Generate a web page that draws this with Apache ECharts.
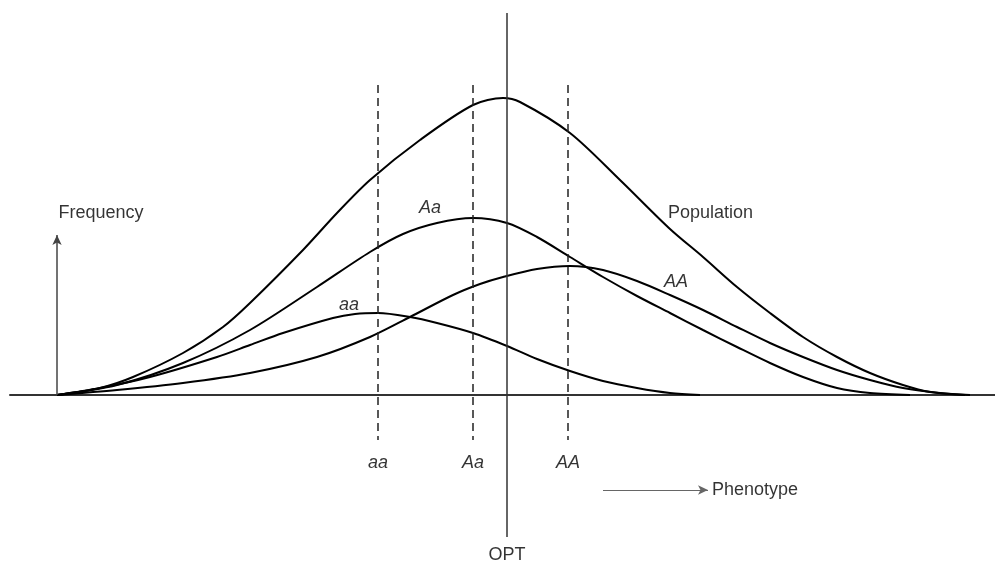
<!DOCTYPE html>
<html lang="en">
<head>
    <meta charset="UTF-8">
    <title>Phenotype distribution</title>
    <style>
        html, body { margin: 0; padding: 0; background: #fff; }
        #main { width: 995px; height: 562px; }
    </style>
</head>
<body>
    <div id="main"></div>
    <script src="https://cdn.jsdelivr.net/npm/echarts@6/dist/echarts.min.js"></script>
    <script>
    // curves: [phenotype, frequency]
    var aaCurve = [[57,0],[100,7],[150,18],[217,38],[250,50],[283,62],[333,77],[355,81],[378,82],[410,78],[437,72],[473,62],[507,49],[537,36],[570,24],[603,14],[637,7],[670,2],[700,0]];
    var AaCurve = [[57,0],[117,10],[183,32],[250,65],[317,108],[370,143],[403,161],[437,172],[473,177],[507,172],[537,158],[570,138],[603,118],[637,99],[670,82],[703,65],[737,48],[770,32],[803,18],[837,7],[870,2],[910,0]];
    var AACurve = [[57,0],[117,5],[183,12],[250,22],[317,38],[370,58],[410,78],[453,100],[480,111],[503,118],[537,126],[570,129],[603,125],[637,114],[670,100],[703,85],[737,68],[770,52],[803,38],[837,25],[870,15],[903,7],[940,2],[970,0]];
    var popCurve = [[57,0],[100,7],[133,18],[183,42],[223,68],[250,92],[303,145],[337,182],[370,215],[420,255],[473,290],[503,297],[520,293],[570,262],[620,215],[670,166],[703,138],[737,108],[770,82],[803,58],[837,38],[870,22],[903,10],[930,3],[965,0]];

    var genotypes = ['aa', 'Aa', 'AA'];
    var genotypeMeans = [378, 473, 568];
    var optX = 507;

    var curveLabels = [
        { name: 'aa', value: [349, 90], italic: true },
        { name: 'Aa', value: [430, 187], italic: true },
        { name: 'AA', value: [676, 113], italic: true },
        { name: 'Population', value: [668, 182], left: true },
        { name: 'Frequency', value: [101, 182] },
        { name: 'OPT', value: [507, -160] },
        { name: 'Phenotype', value: [712, -95], left: true }
    ];
    genotypes.forEach(function (g, i) {
        curveLabels.push({ name: g, value: [genotypeMeans[i], -68], italic: true });
    });

    var mChart = echarts.init(document.getElementById('main'));

    function curve(data) {
        return {
            type: 'line',
            data: data,
            smooth: 0.3,
            showSymbol: false,
            lineStyle: { color: '#000', width: 2 },
            z: 3
        };
    }

    var guideLines = [];
    genotypeMeans.forEach(function (x) {
        guideLines.push([
            { coord: [x, 310], lineStyle: { type: [8, 5], width: 1.5, color: '#222' } },
            { coord: [x, -45] }
        ]);
    });
    guideLines.push([
        { coord: [optX, 382], lineStyle: { type: 'solid', width: 1.5, color: '#333' } },
        { coord: [optX, -142] }
    ]);

    var option = {
        animation: false,
        backgroundColor: '#fff',
        grid: { left: 10, right: 0, top: 0, bottom: 0 },
        xAxis: {
            type: 'value',
            min: 10,
            max: 995,
            axisLine: { show: true, onZero: true, lineStyle: { color: '#333', width: 2 } },
            axisTick: { show: false },
            axisLabel: { show: false },
            splitLine: { show: false }
        },
        yAxis: {
            type: 'value',
            min: -167,
            max: 395,
            show: false,
            splitLine: { show: false }
        },
        series: [
            curve(aaCurve),
            curve(AaCurve),
            curve(AACurve),
            curve(popCurve),
            {
                type: 'line',
                data: [],
                markLine: {
                    silent: true,
                    symbol: 'none',
                    label: { show: false },
                    data: guideLines
                }
            },
            {
                type: 'line',
                data: [],
                markLine: {
                    silent: true,
                    symbol: ['none', 'arrow'],
                    symbolSize: [7, 10],
                    label: { show: false },
                    data: [
                        [{ coord: [57, 0], lineStyle: { color: '#444', width: 1.5, type: 'solid' } }, { coord: [57, 160] }],
                        [{ coord: [603, -95], lineStyle: { color: '#666', width: 1.2, type: 'solid' } }, { coord: [708, -95] }]
                    ]
                }
            },
            {
                type: 'scatter',
                symbolSize: 0,
                silent: true,
                data: curveLabels.map(function (d) {
                    return {
                        name: d.name,
                        value: d.value,
                        label: {
                            fontStyle: d.italic ? 'italic' : 'normal',
                            align: d.left ? 'left' : 'center'
                        }
                    };
                }),
                label: {
                    show: true,
                    position: 'inside',
                    formatter: '{b}',
                    color: '#000',
                    textBorderWidth: 0,
                    textBorderColor: 'transparent',
                    fontSize: 18,
                    fontFamily: 'Liberation Sans, Arial, sans-serif',
                    verticalAlign: 'middle'
                }
            }
        ]
    };

    mChart.setOption(option);
    </script>
</body>
</html>
